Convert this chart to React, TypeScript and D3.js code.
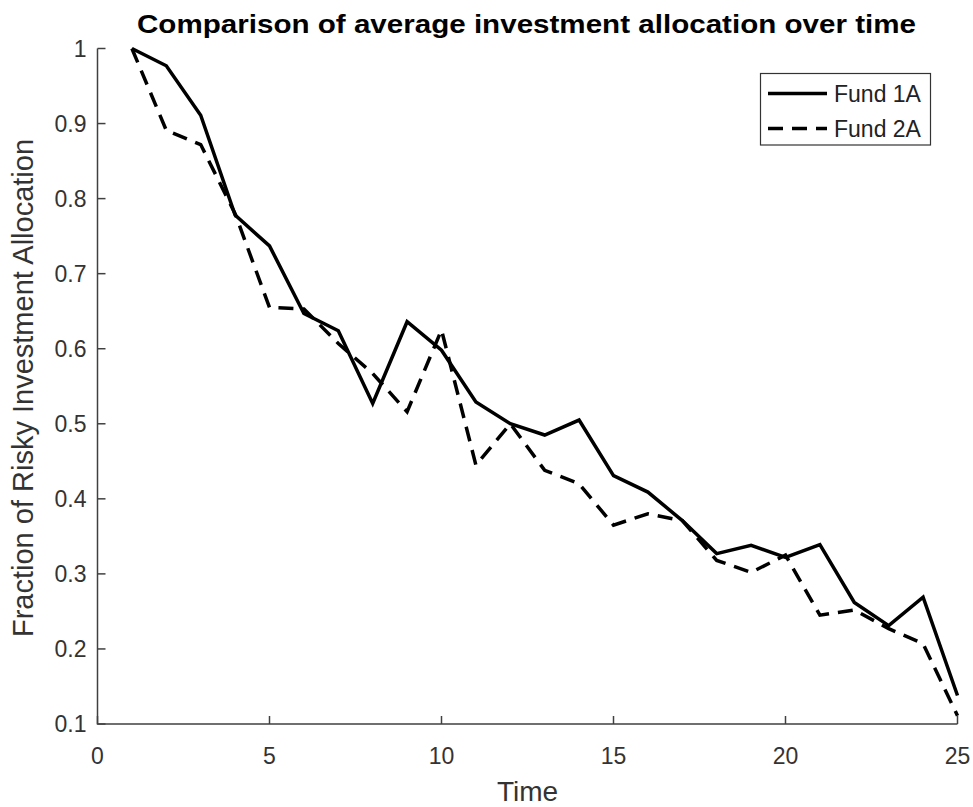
import React, { useEffect, useRef } from "react";
import * as d3 from "d3";

// time steps and the two fund series
const timeSteps = [1, 2, 3, 4, 5, 6, 7, 8, 9, 10, 11, 12, 13, 14, 15, 16, 17, 18, 19, 20, 21, 22, 23, 24, 25];
const fund1A = [1.0, 0.977, 0.911, 0.778, 0.737, 0.647, 0.624, 0.527, 0.636, 0.598, 0.529, 0.5, 0.485, 0.505, 0.431, 0.409, 0.371, 0.327, 0.338, 0.322, 0.339, 0.262, 0.231, 0.269, 0.138];
const fund2A = [1.0, 0.891, 0.872, 0.78, 0.655, 0.653, 0.607, 0.567, 0.516, 0.625, 0.445, 0.5, 0.438, 0.42, 0.365, 0.38, 0.371, 0.318, 0.302, 0.325, 0.245, 0.252, 0.227, 0.207, 0.111];
const xTicks = [0, 5, 10, 15, 20, 25];
const yTicks = [0.1, 0.2, 0.3, 0.4, 0.5, 0.6, 0.7, 0.8, 0.9, 1];
const seriesNames = ["Fund 1A", "Fund 2A"];

const W = 973;
const H = 807;
const FONT = "'Liberation Sans', Arial, Helvetica, sans-serif";

const App: React.FC = () => {
  const svgRef = useRef<SVGSVGElement | null>(null);

  useEffect(() => {
    document.body.style.margin = "0";
    const svg = d3.select(svgRef.current);
    svg.selectAll("*").remove();

    const x = d3.scaleLinear().domain([0, 25]).range([97.5, 957.5]);
    const y = d3.scaleLinear().domain([0.1, 1]).range([724, 48.5]);
    const axisColor = "#404040";
    const tickLen = 8;

    svg.append("rect").attr("width", W).attr("height", H).attr("fill", "#fff");

    // axes lines (box off, ticks inward like MATLAB)
    const axes = svg.append("g");
    axes.append("path")
      .attr("d", `M${x(0)},${y(1)}V${y(0.1)}H${x(25)}`)
      .attr("fill", "none")
      .attr("stroke", axisColor)
      .attr("stroke-width", 1.5);

    yTicks.forEach((t) => {
      axes.append("line")
        .attr("x1", x(0)).attr("x2", x(0) + tickLen)
        .attr("y1", y(t)).attr("y2", y(t))
        .attr("stroke", axisColor).attr("stroke-width", 1.5);
      axes.append("text")
        .attr("x", x(0) - 11)
        .attr("y", y(t) + 8)
        .attr("text-anchor", "end")
        .attr("font-family", FONT)
        .attr("font-size", 23)
        .attr("fill", "#333")
        .text(d3.format("~g")(t));
    });

    xTicks.forEach((t) => {
      axes.append("line")
        .attr("x1", x(t)).attr("x2", x(t))
        .attr("y1", y(0.1)).attr("y2", y(0.1) - tickLen)
        .attr("stroke", axisColor).attr("stroke-width", 1.5);
      axes.append("text")
        .attr("x", x(t))
        .attr("y", 764)
        .attr("text-anchor", "middle")
        .attr("font-family", FONT)
        .attr("font-size", 23)
        .attr("fill", "#333")
        .text(String(t));
    });

    // axis labels and title
    svg.append("text")
      .attr("x", (x(0) + x(25)) / 2)
      .attr("y", 801)
      .attr("text-anchor", "middle")
      .attr("font-family", FONT)
      .attr("font-size", 28)
      .attr("fill", "#333")
      .text("Time");

    svg.append("text")
      .attr("transform", `translate(33,388) rotate(-90)`)
      .attr("text-anchor", "middle")
      .attr("font-family", FONT)
      .attr("font-size", 29)
      .attr("fill", "#333")
      .text("Fraction of Risky Investment Allocation");

    svg.append("text")
      .attr("x", 526.5)
      .attr("y", 33)
      .attr("text-anchor", "middle")
      .attr("font-family", FONT)
      .attr("font-size", 25)
      .attr("font-weight", "bold")
      .attr("fill", "#000")
      .attr("textLength", 779)
      .attr("lengthAdjust", "spacingAndGlyphs")
      .text("Comparison of average investment allocation over time");

    // lines
    const line = d3.line<number>()
      .x((_, i) => x(timeSteps[i]))
      .y((d) => y(d));

    const series = [fund1A, fund2A];
    const dashes = [null, "15,9"];
    series.forEach((s, i) => {
      svg.append("path")
        .datum(s)
        .attr("d", line)
        .attr("fill", "none")
        .attr("stroke", "#000")
        .attr("stroke-width", 3.5)
        .attr("stroke-linejoin", "miter")
        .attr("stroke-dasharray", dashes[i]);
    });

    // legend
    const lg = svg.append("g");
    lg.append("rect")
      .attr("x", 760.5).attr("y", 73.5)
      .attr("width", 170).attr("height", 71.5)
      .attr("fill", "#fff")
      .attr("stroke", "#333")
      .attr("stroke-width", 1.2);
    seriesNames.forEach((name, i) => {
      const ly = 93.5 + i * 35;
      lg.append("line")
        .attr("x1", 768).attr("x2", 827)
        .attr("y1", ly).attr("y2", ly)
        .attr("stroke", "#000")
        .attr("stroke-width", 3.5)
        .attr("stroke-dasharray", dashes[i]);
      lg.append("text")
        .attr("x", 834)
        .attr("y", ly + 8)
        .attr("font-family", FONT)
        .attr("font-size", 23)
        .attr("fill", "#222")
        .text(name);
    });
  }, []);

  return (
    <div>
      <svg ref={svgRef} width={W} height={H} style={{ display: "block" }} />
    </div>
  );
};

export default App;
